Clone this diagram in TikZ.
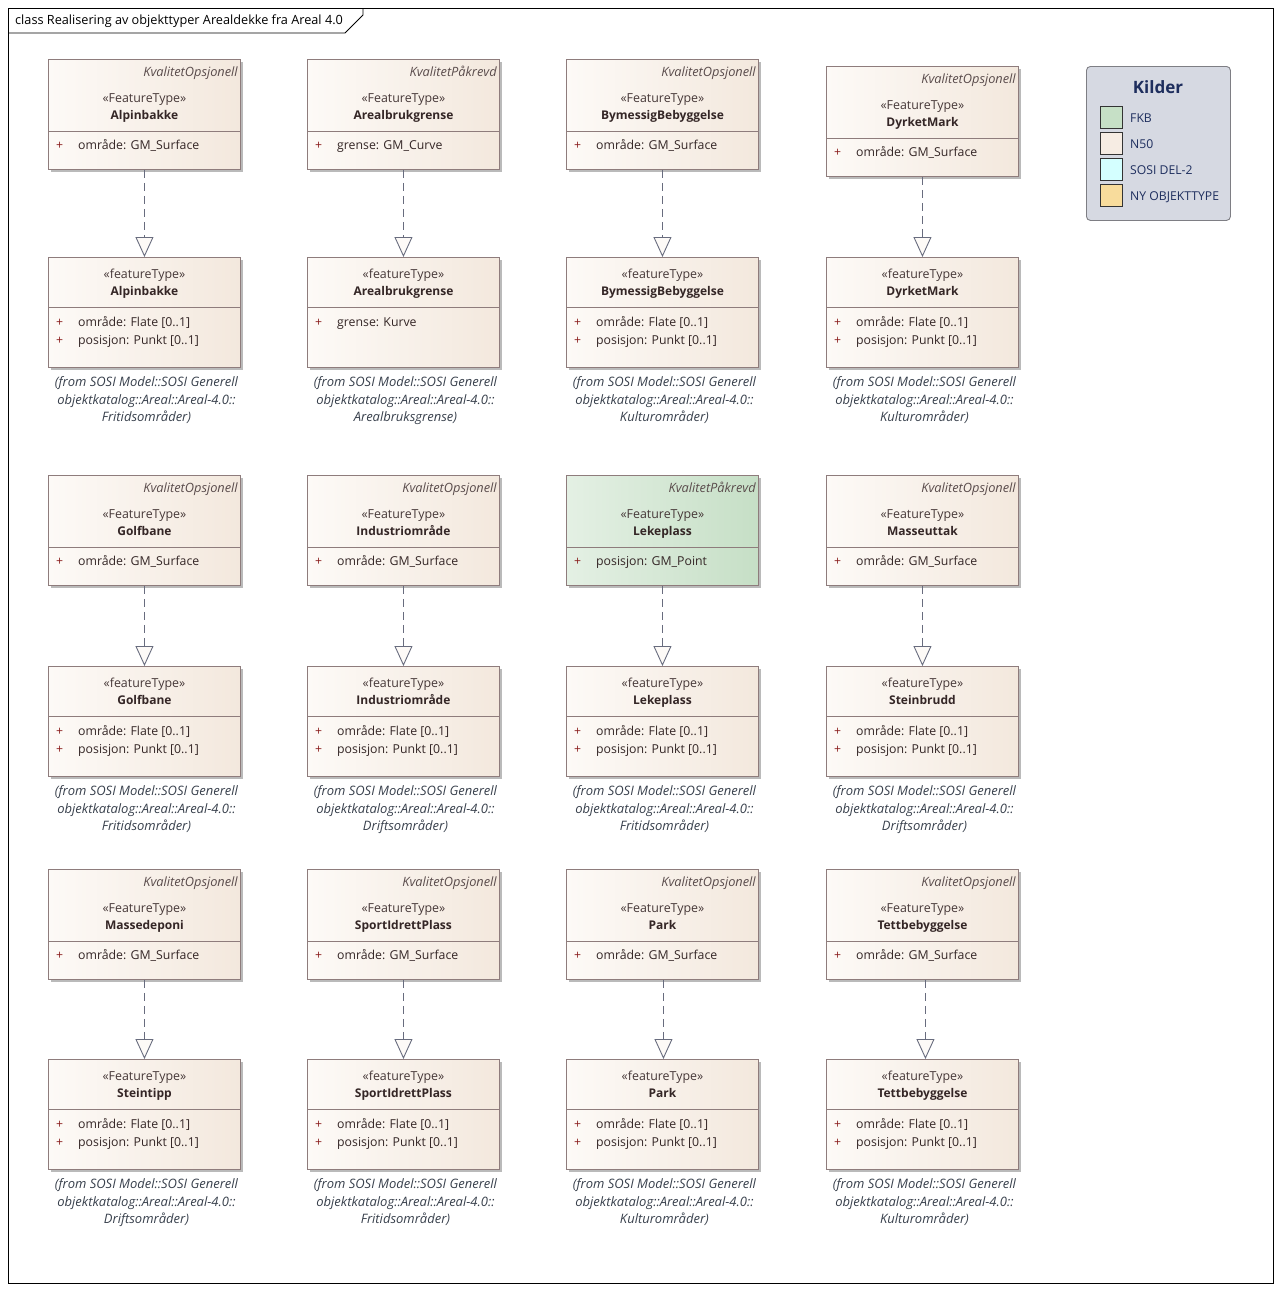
\documentclass[tikz,border=0pt]{standalone}
\usepackage{fontspec}
\setmainfont{Open Sans}
\usetikzlibrary{arrows.meta,shadows}

\definecolor{boxlight}{HTML}{FDFAF7}
\definecolor{boxdark}{HTML}{F3E8DD}
\definecolor{greenlight}{HTML}{E4F0E4}
\definecolor{greendark}{HTML}{C6DFC6}
\definecolor{boxline}{HTML}{8E7C7C}
\definecolor{tagcol}{HTML}{5A4C4C}
\definecolor{stcol}{HTML}{463838}
\definecolor{namecol}{HTML}{342626}
\definecolor{pluscol}{HTML}{8A1C1C}
\definecolor{notecol}{HTML}{38404C}
\definecolor{arrowcol}{HTML}{686C7E}
\definecolor{legendbg}{HTML}{D6D9E2}
\definecolor{legendline}{HTML}{7E7E84}
\definecolor{navy}{HTML}{1E2E5E}
\definecolor{srcFKB}{HTML}{C6E0C6}
\definecolor{srcN50}{HTML}{F6ECE3}
\definecolor{srcSOSI}{HTML}{D4FFFF}
\definecolor{srcNY}{HTML}{F8DC9C}

\tikzset{
  ftframe/.style={draw=boxline, line width=0.9pt, anchor=north west, inner sep=0pt,
    minimum width=192pt, minimum height=110pt,
    drop shadow={shadow xshift=3pt, shadow yshift=-3pt, fill=black!27, opacity=1}},
  beige/.style={left color=boxlight, right color=boxdark},
  green/.style={left color=greenlight, right color=greendark},
  divider/.style={draw=boxline, line width=0.9pt},
  txt/.style={inner sep=0pt, font=\fontsize{12.3}{14}\selectfont},
  tagtxt/.style={txt, anchor=mid east, text=tagcol, font=\fontsize{12.8}{14}\selectfont\itshape},
  sttxt/.style={txt, anchor=mid, text=stcol, font=\fontsize{12.4}{14}\selectfont},
  nametxt/.style={txt, anchor=mid, text=namecol, font=\fontsize{12}{14}\selectfont\bfseries},
  plustxt/.style={txt, anchor=mid west, text=pluscol},
  attrtxt/.style={txt, anchor=mid west, text=namecol},
  notetxt/.style={txt, anchor=mid, text=notecol, font=\fontsize{13}{14}\selectfont\itshape},
  realize/.style={draw=arrowcol, line width=0.9pt, dash pattern=on 8pt off 5pt,
    -{Triangle[width=18pt, length=20pt, fill=boxlight, line width=0.9pt]}},
  legendbox/.style={draw=legendline, fill=legendbg, rounded corners=4pt, line width=0.9pt},
  swatch/.style={draw=black!80, line width=0.9pt, minimum size=22pt, inner sep=0pt, anchor=north west},
  legtxt/.style={txt, anchor=mid west, text=navy, font=\fontsize{12.2}{14}\selectfont}
}

% Source class with a quality tag and one geometry attribute
\newcommand{\srcbox}[7]{%
  \node[ftframe,#4] (#1) at (#2,#3) {};
  \draw[divider] ([yshift=-72pt]#1.north west) -- ([yshift=-72pt]#1.north east);
  \node[tagtxt] (#1-tag) at ([xshift=-3pt,yshift=-14.5pt]#1.north east) {#5};
  \node[sttxt] (#1-st) at ([yshift=-41pt]#1.north) {«FeatureType»};
  \node[nametxt] (#1-name) at ([yshift=-58pt]#1.north) {#6};
  \node[plustxt] (#1-p1) at ([xshift=8pt,yshift=-87.5pt]#1.north west) {+};
  \node[attrtxt] (#1-a1) at ([xshift=30pt,yshift=-87.5pt]#1.north west) {#7};
}

% Realized class with its package note below
\newcommand{\tgtbox}[8]{%
  \node[ftframe,beige] (#1) at (#2,#3) {};
  \draw[divider] ([yshift=-50pt]#1.north west) -- ([yshift=-50pt]#1.north east);
  \node[sttxt] (#1-st) at ([yshift=-18.5pt]#1.north) {#4};
  \node[nametxt] (#1-name) at ([yshift=-35.5pt]#1.north) {#5};
  \node[plustxt] (#1-p1) at ([xshift=8pt,yshift=-66.5pt]#1.north west) {+};
  \node[attrtxt] (#1-a1) at ([xshift=30pt,yshift=-66.5pt]#1.north west) {#6};
  \if\relax\detokenize{#7}\relax\else
    \node[plustxt] (#1-p2) at ([xshift=8pt,yshift=-84.5pt]#1.north west) {+};
    \node[attrtxt] (#1-a2) at ([xshift=30pt,yshift=-84.5pt]#1.north west) {#7};
  \fi
  \node[notetxt] (#1-n1) at ([xshift=2pt,yshift=-127pt]#1.north) {(from SOSI Model::SOSI Generell};
  \node[notetxt] (#1-n2) at ([xshift=2pt,yshift=-145pt]#1.north) {objektkatalog::Areal::Areal-4.0::};
  \node[notetxt] (#1-n3) at ([xshift=2pt,yshift=-162pt]#1.north) {#8)};
}

\begin{document}
\begin{tikzpicture}[x=1pt, y=-1pt]
\useasboundingbox (0,0) rectangle (1281,1291);

% diagram frame and title tab
\draw[line width=0.9pt] (8,8) rectangle (1273,1283);
\draw[line width=0.9pt] (8,33) -- (345,33) -- (363,15) -- (363,8);
\node[txt, anchor=mid west, font=\fontsize{12.7}{14}\selectfont] (title) at (15,22)
  {class Realisering av objekttyper Arealdekke fra Areal 4.0};

% row 1
\srcbox{s11}{48}{59}{beige}{KvalitetOpsjonell}{Alpinbakke}{område: GM\_Surface}
\srcbox{s12}{307}{59}{beige}{KvalitetPåkrevd}{Arealbrukgrense}{grense: GM\_Curve}
\srcbox{s13}{566}{59}{beige}{KvalitetOpsjonell}{BymessigBebyggelse}{område: GM\_Surface}
\srcbox{s14}{826}{66}{beige}{KvalitetOpsjonell}{DyrketMark}{område: GM\_Surface}
\tgtbox{t11}{48}{257}{«featureType»}{Alpinbakke}{område: Flate [0..1]}{posisjon: Punkt [0..1]}{Fritidsområder}
\tgtbox{t12}{307}{257}{«featureType»}{Arealbrukgrense}{grense: Kurve}{}{Arealbruksgrense}
\tgtbox{t13}{566}{257}{«featureType»}{BymessigBebyggelse}{område: Flate [0..1]}{posisjon: Punkt [0..1]}{Kulturområder}
\tgtbox{t14}{826}{257}{«featureType»}{DyrketMark}{område: Flate [0..1]}{posisjon: Punkt [0..1]}{Kulturområder}

% row 2
\srcbox{s21}{48}{475}{beige}{KvalitetOpsjonell}{Golfbane}{område: GM\_Surface}
\srcbox{s22}{307}{475}{beige}{KvalitetOpsjonell}{Industriområde}{område: GM\_Surface}
\srcbox{s23}{566}{475}{green}{KvalitetPåkrevd}{Lekeplass}{posisjon: GM\_Point}
\srcbox{s24}{826}{475}{beige}{KvalitetOpsjonell}{Masseuttak}{område: GM\_Surface}
\tgtbox{t21}{48}{666}{«featureType»}{Golfbane}{område: Flate [0..1]}{posisjon: Punkt [0..1]}{Fritidsområder}
\tgtbox{t22}{307}{666}{«featureType»}{Industriområde}{område: Flate [0..1]}{posisjon: Punkt [0..1]}{Driftsområder}
\tgtbox{t23}{566}{666}{«featureType»}{Lekeplass}{område: Flate [0..1]}{posisjon: Punkt [0..1]}{Fritidsområder}
\tgtbox{t24}{826}{666}{«featureType»}{Steinbrudd}{område: Flate [0..1]}{posisjon: Punkt [0..1]}{Driftsområder}

% row 3
\srcbox{s31}{48}{869}{beige}{KvalitetOpsjonell}{Massedeponi}{område: GM\_Surface}
\srcbox{s32}{307}{869}{beige}{KvalitetOpsjonell}{SportIdrettPlass}{område: GM\_Surface}
\srcbox{s33}{566}{869}{beige}{KvalitetOpsjonell}{Park}{område: GM\_Surface}
\srcbox{s34}{826}{869}{beige}{KvalitetOpsjonell}{Tettbebyggelse}{område: GM\_Surface}
\tgtbox{t31}{48}{1059}{«FeatureType»}{Steintipp}{område: Flate [0..1]}{posisjon: Punkt [0..1]}{Driftsområder}
\tgtbox{t32}{307}{1059}{«featureType»}{SportIdrettPlass}{område: Flate [0..1]}{posisjon: Punkt [0..1]}{Fritidsområder}
\tgtbox{t33}{566}{1059}{«featureType»}{Park}{område: Flate [0..1]}{posisjon: Punkt [0..1]}{Kulturområder}
\tgtbox{t34}{826}{1059}{«featureType»}{Tettbebyggelse}{område: Flate [0..1]}{posisjon: Punkt [0..1]}{Kulturområder}

% realizations
\foreach \r in {1,2} {
  \foreach \c in {1,...,4} {
    \draw[realize] (s\r\c) -- (t\r\c);
  }
}
\draw[realize] (s31) -- (t31);
\draw[realize] (s32) -- (t32);
\draw[realize] ([xshift=1pt]s33.south) -- ([xshift=1pt]t33.north);
\draw[realize] ([xshift=3pt]s34.south) -- ([xshift=3pt]t34.north);

% legend
\node[legendbox, anchor=north west, minimum width=144pt, minimum height=154pt, inner sep=0pt] (legend) at (1086,66) {};
\node[txt, anchor=mid, text=navy, font=\fontsize{17}{19}\selectfont\bfseries] (legend-title) at (1158,91) {Kilder};
\node[swatch, fill=srcFKB] (sw1) at (1100,106) {};
\node[swatch, fill=srcN50] (sw2) at (1100,132) {};
\node[swatch, fill=srcSOSI] (sw3) at (1100,158) {};
\node[swatch, fill=srcNY] (sw4) at (1100,184) {};
\node[legtxt] (lg1) at (1130,120) {FKB};
\node[legtxt] (lg2) at (1130,146) {N50};
\node[legtxt] (lg3) at (1130,172) {SOSI DEL-2};
\node[legtxt] (lg4) at (1130,198) {NY OBJEKTTYPE};
\end{tikzpicture}
\end{document}
